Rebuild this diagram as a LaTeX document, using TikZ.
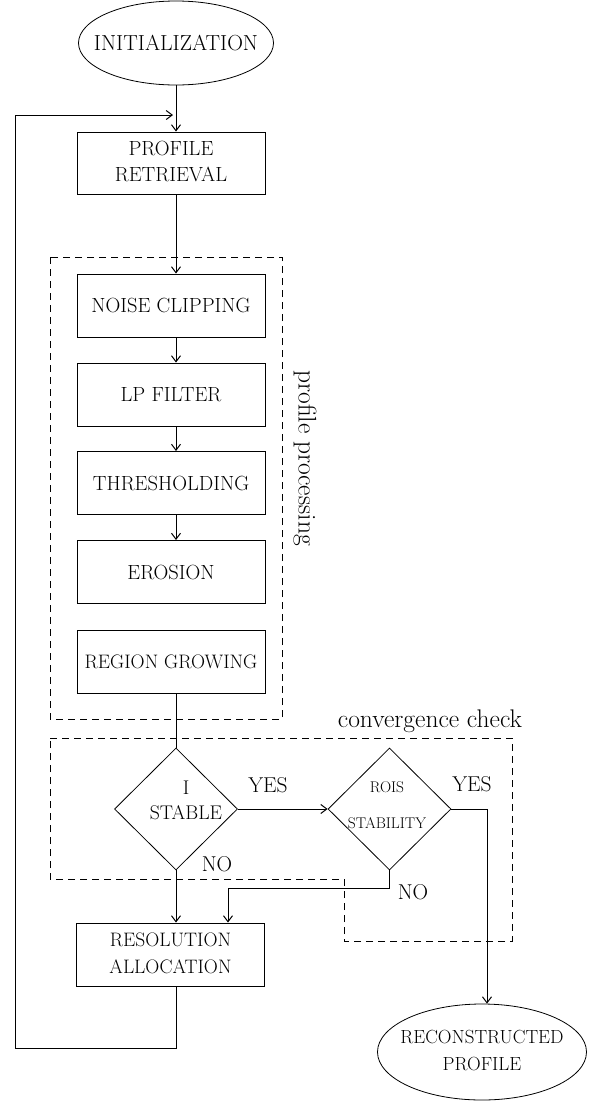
\documentclass[tikz,border=0pt]{standalone}
\usepackage{tikz}
\usetikzlibrary{positioning,arrows.meta,shapes.geometric}

\newcommand{\boxlines}[3][-6pt]{\raisebox{#1}{\begin{tabular}{@{}c@{}}#2\\#3\end{tabular}}}

\begin{document}
\begin{tikzpicture}[x=1pt,y=-1pt,
  stepbox/.style={rectangle,draw,line width=0.9pt,minimum width=188pt,minimum height=63pt,inner sep=0pt,align=center,font=\fontsize{20.5}{26}\selectfont},
  term/.style={ellipse,draw,line width=0.8pt,inner ysep=0pt,align=center},
  test/.style={diamond,draw,line width=0.8pt,minimum width=123pt,minimum height=122pt,inner sep=0pt},
  answer/.style={inner sep=0pt,font=\fontsize{21.5}{24}\selectfont},
  edge/.style={-{Straight Barb[length=6pt,width=9pt]},line width=1pt},
  wire/.style={line width=1pt},
  group/.style={line width=0.9pt,dash pattern=on 7pt off 5pt},
  grouplabel/.style={inner sep=0pt,font=\fontsize{25.5}{28}\selectfont}
]
\useasboundingbox (0,0) rectangle (589,1101);

% start / end
\node[term,inner xsep=-20pt,minimum width=195pt,minimum height=84pt,font=\fontsize{21.8}{24}\selectfont] (init) at (176,43) {INITIALIZATION};
\node[term,inner xsep=-12pt,minimum width=209pt,minimum height=96pt,font=\fontsize{19}{27}\selectfont] (recon) at (482,1052) {\boxlines[-5pt]{RECONSTRUCTED}{PROFILE}};

% processing chain
\node[stepbox,minimum height=62pt] (retr) at (171,163) {\boxlines[-5pt]{PROFILE}{RETRIEVAL}};
\node[stepbox] (noise) at (171,305.5) {NOISE CLIPPING};
\node[stepbox] (lp) at (171,394.5) {LP FILTER};
\node[stepbox] (thr) at (171,483) {THRESHOLDING};
\node[stepbox] (ero) at (171,572) {EROSION};
\node[stepbox,font=\fontsize{19.5}{26}\selectfont] (reg) at (171,661.5) {REGION GROWING};
\node[stepbox,font=\fontsize{19.5}{27}\selectfont] (res) at (170.5,954.5) {\boxlines{RESOLUTION}{ALLOCATION}};

% checks
\node[test] (d1) at (176,809) {};
\node[test] (d2) at (389.5,809) {};
\node[inner sep=0pt,align=center,font=\fontsize{19.8}{25}\selectfont] (d1txt) at (186,800) {I\\STABLE};
\node[inner sep=0pt,align=center,font=\fontsize{15.5}{36}\selectfont] (d2txt) at (387,805) {ROIS\\STABILITY};

\node[answer] (yes1) at (268,785) {YES};
\node[answer] (yes2) at (472,784) {YES};
\node[answer] (no1) at (217,864) {NO};
\node[answer] (no2) at (413,892) {NO};

% groups
\draw[group] (50,257) rectangle (282,719);
\draw[group] (50,738) -- (512,738) -- (512,941) -- (344,941) -- (344,879) -- (50,879) -- cycle;
\node[grouplabel,rotate=-90] (pplabel) at (305,458) {profile processing};
\node[grouplabel,anchor=base] (cclabel) at (430,727) {convergence check};

% connectors
\coordinate (merge) at (173,115);
\coordinate (loopbl) at (15,1048);
\coordinate (nobend) at (389.5,888);
\coordinate (yesbend) at (487,809);

\draw[edge] (init.south) -- (init.south |- retr.north);
\foreach \a/\b in {retr/noise,noise/lp,lp/thr,thr/ero}
  \draw[edge] ([xshift=5pt]\a.south) -- ([xshift=5pt]\b.north);
\draw[wire] (d1.north |- reg.south) -- (d1.north);
\draw[edge] (d1.east) -- (d2.west);
\draw[edge] (d1.south) -- (d1.south |- res.north);
\draw[edge] (d2.south) -- (nobend) -| ([xshift=57.5pt]res.north);
\draw[edge] (d2.east) -- (yesbend) -- (yesbend |- recon.north);
\draw[edge] ([xshift=5.5pt]res.south) |- (loopbl) |- (merge);
\end{tikzpicture}
\end{document}
